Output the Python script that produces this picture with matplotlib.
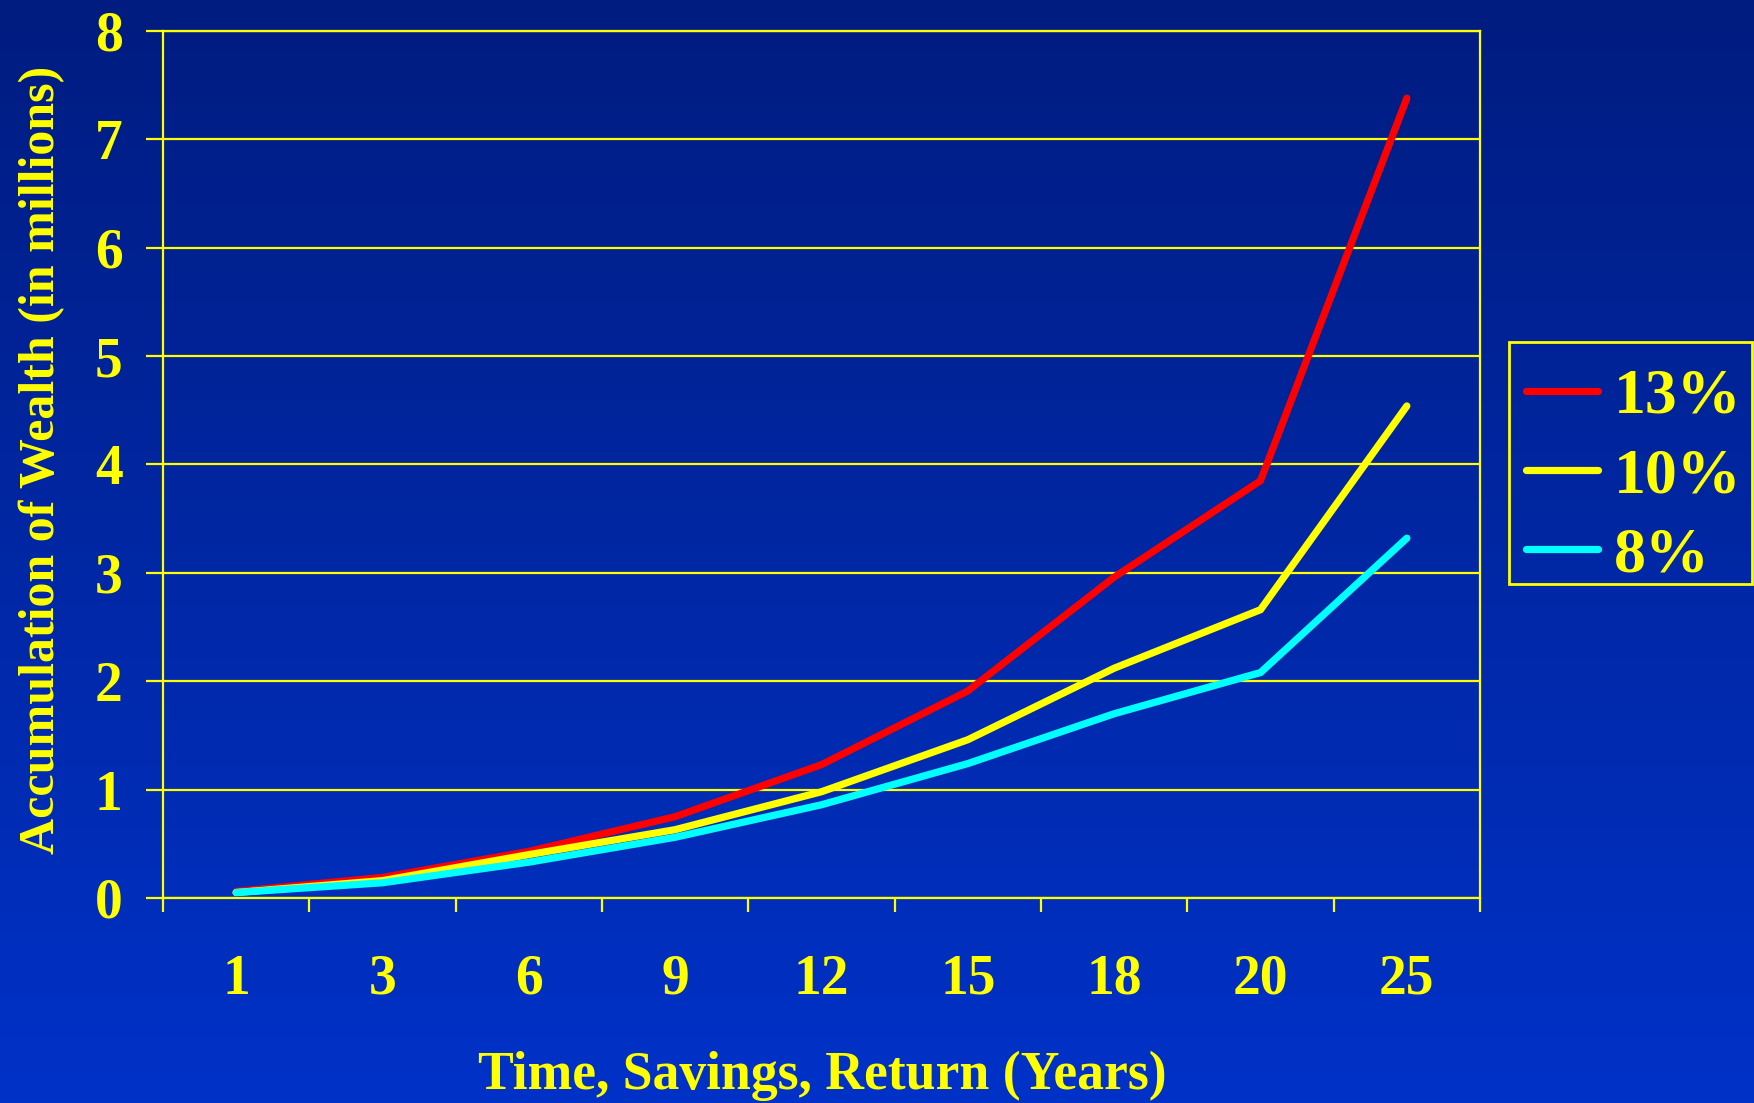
import numpy as np
import matplotlib
matplotlib.use("Agg")
import matplotlib.pyplot as plt
from matplotlib.colors import LinearSegmentedColormap
from matplotlib.patches import Rectangle

# Years of saving / compounding
years = ["1", "3", "6", "9", "12", "15", "18", "20", "25"]

# Accumulated wealth (in millions) at each annual rate of return
wealth_13 = [0.06, 0.19, 0.43, 0.75, 1.23, 1.91, 2.96, 3.85, 7.38]
wealth_10 = [0.05, 0.16, 0.40, 0.63, 0.98, 1.46, 2.12, 2.66, 4.54]
wealth_8 = [0.05, 0.14, 0.33, 0.56, 0.86, 1.24, 1.70, 2.08, 3.32]

series_labels = ["13%", "10%", "8%"]
y_ticks = [0, 1, 2, 3, 4, 5, 6, 7, 8]

YELLOW = "#ffff00"
SERIF = ["Liberation Serif", "DejaVu Serif"]

fig = plt.figure(figsize=(17.54, 11.03), dpi=100)

# Vertical blue gradient backdrop
bg = fig.add_axes([0, 0, 1, 1], zorder=-10)
cmap = LinearSegmentedColormap.from_list("slide", ["#001c80", "#0032c8"])
grad = np.linspace(0, 1, 256).reshape(-1, 1)
bg.imshow(grad, aspect="auto", cmap=cmap, extent=[0, 1, 1, 0])
bg.set_axis_off()

ax = fig.add_axes([0.0929, 0.1859, 0.7509, 0.786])
ax.set_facecolor("none")

x = np.arange(len(years))
lines = []
for vals, color, lab in zip([wealth_13, wealth_10, wealth_8],
                            ["#ff0000", YELLOW, "#00ffff"], series_labels):
    ln, = ax.plot(x, vals, color=color, lw=5.2, solid_capstyle="round",
                  solid_joinstyle="miter", label=lab, zorder=3)
    lines.append(ln)

ax.set_xlim(-0.5, len(years) - 0.5)
ax.set_ylim(0, 8)

ax.set_xticks(x)
ax.set_xticklabels(years)
ax.set_xticks(np.arange(-0.5, len(years), 1.0), minor=True)
ax.tick_params(axis="x", which="major", length=0, pad=40)
ax.tick_params(axis="x", which="minor", length=10, width=1.6, color=YELLOW,
               direction="out")

ax.set_yticks(y_ticks)
ax.tick_params(axis="y", which="major", length=12, width=1.6, color=YELLOW,
               direction="out", pad=17)
ax.grid(axis="y", color=YELLOW, lw=1.6, zorder=1)

for lbl in ax.get_xticklabels() + ax.get_yticklabels():
    lbl.set_family(SERIF)
    lbl.set_fontweight("bold")
    lbl.set_fontsize(40)
    lbl.set_color(YELLOW)

for sp in ax.spines.values():
    sp.set_color(YELLOW)
    sp.set_linewidth(1.6)

fig.text(0.4686, 0.025, "Time, Savings, Return (Years)", ha="center",
         va="center", family=SERIF, fontweight="bold", fontsize=38.6,
         color=YELLOW)
fig.text(0.024, 0.583, "Accumulation of Wealth (in millions)", ha="center",
         va="center", rotation=90, family=SERIF, fontweight="bold",
         fontsize=36, color=YELLOW)

# Legend entries, with a plain yellow box drawn around them
leg = fig.legend(handles=lines, loc="center left",
                 bbox_to_anchor=(0.870, 0.5678), bbox_transform=fig.transFigure,
                 borderaxespad=0, borderpad=0, frameon=False,
                 handlelength=1.12, handletextpad=0.25, labelspacing=0.32,
                 prop={"family": SERIF, "weight": "bold", "size": 46})
for t in leg.get_texts():
    t.set_color(YELLOW)

fig.patches.append(Rectangle((0.8603, 1 - 584 / 1103), 0.1385, 242 / 1103,
                             transform=fig.transFigure, fill=False,
                             edgecolor=YELLOW, lw=2, zorder=5))

fig.savefig("out.png", dpi=100)
